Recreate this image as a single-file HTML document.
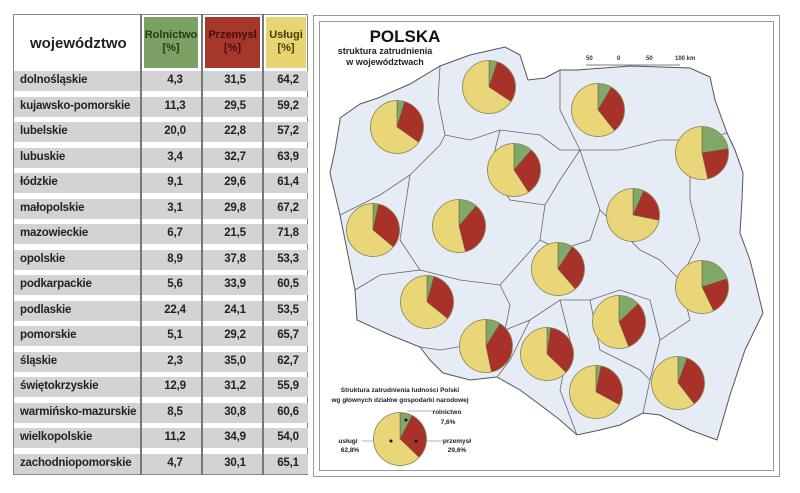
<!DOCTYPE html>
<html><head><meta charset="utf-8"><style>
body{margin:0;width:800px;height:493px;background:#fff;position:relative;overflow:hidden;font-family:"Liberation Sans",sans-serif}
.t{position:absolute;left:13px;top:14px;width:295px;height:461px;border:1.5px solid #888;box-sizing:border-box}
.row{position:absolute;left:14px;width:294px;height:20px;background:#d3d3d3;font-weight:bold;font-size:11.5px;color:#222;letter-spacing:-0.2px}
.row span{position:absolute;top:3px}
.vl{position:absolute;top:14px;width:1.5px;height:461px;background:#777}
.hd{position:absolute;top:17px;height:51px;font-weight:bold;font-size:11px;text-align:center;line-height:13px;box-sizing:border-box;padding-top:12px}
</style></head><body>
<div class="t"></div>
<div style="position:absolute;left:30px;top:35px;font-weight:bold;font-size:15px;color:#222">województwo</div>
<div class="hd" style="left:144px;width:54px;background:#7ba264;color:#1f3d12">Rolnictwo<br>[%]</div>
<div class="hd" style="left:205px;width:55px;background:#a5372c;color:#4a0c06">Przemysł<br>[%]</div>
<div class="hd" style="left:266px;width:40px;background:#e6d570;color:#4a3c00">Usługi<br>[%]</div>
<div id="rows"></div>
<div class="vl" style="left:140px"></div><div class="vl" style="left:201px"></div><div class="vl" style="left:262px"></div>
<div style="position:absolute;left:313px;top:15px;width:467px;height:462px;border:1.5px solid #999;box-sizing:border-box"></div>
<div style="position:absolute;left:319px;top:21px;width:455px;height:450px;border:1.5px solid #999;box-sizing:border-box"></div>
<svg width="800" height="493" style="position:absolute;left:0;top:0" id="s">
<polygon fill="#e6ecf5" stroke="#555" stroke-width="1" points="340,118 360,104 378,98 410,84 440,66 470,55 505,47 520,55 528,80 545,78 560,70 577,70 630,66 690,68 710,77 715,100 727,133 735,150 743,173 742,200 740,233 750,260 763,313 745,350 730,395 717,440 690,430 660,415 643,413 620,425 600,430 577,435 560,420 543,407 520,390 497,377 470,380 443,373 430,360 420,347 390,335 357,320 355,290 347,250 340,215 330,173 335,150 340,120"/>
<g fill="none" stroke="#666" stroke-width="0.8">
<path d="M440,66 L438,100 L445,135 L440,145"/><path d="M445,135 L470,140 L500,130 L540,135 L560,150 L580,150"/>
<path d="M560,70 L560,110 L580,150 L620,150 L660,140 L700,140 L727,133"/>
<path d="M340,215 L380,195 L410,175 L440,145"/><path d="M410,175 L400,240 L420,270 L380,275 L355,290"/>
<path d="M500,130 L490,170 L510,200 L545,205 L560,180 L580,150"/><path d="M545,205 L540,240 L560,250 L590,240 L600,210 L580,150"/>
<path d="M420,270 L460,280 L500,285 L540,240"/><path d="M500,285 L510,305 L505,330 L470,345 L440,350 L420,347"/>
<path d="M690,140 L690,200 L700,240 L680,280 L690,320 L660,340 L650,380 L643,413"/>
<path d="M600,210 L640,250 L660,260 L680,280"/><path d="M505,330 L530,320 L560,300 L590,300 L620,290 L650,300 L660,340"/>
<path d="M530,320 L510,360 L497,377"/><path d="M560,300 L570,340 L560,390 L577,435"/><path d="M590,300 L600,350 L640,370 L650,380"/>
</g>
<text x="405" y="42" font-size="17" font-weight="bold" fill="#111" text-anchor="middle">POLSKA</text>
<text x="385" y="54" font-size="9" font-weight="bold" fill="#222" text-anchor="middle">struktura zatrudnienia</text>
<text x="385" y="65" font-size="9" font-weight="bold" fill="#222" text-anchor="middle">w województwach</text>
<g font-size="6" font-weight="bold" fill="#333"><text x="586" y="60">50</text><text x="617" y="60">0</text><text x="646" y="60">50</text><text x="675" y="60">100 km</text></g>
<line x1="586" y1="65" x2="680" y2="65" stroke="#555" stroke-width="0.8"/>
<g font-size="6.5" font-weight="bold" fill="#222" text-anchor="middle"><text x="400" y="392">Struktura zatrudnienia ludności Polski</text><text x="400" y="402">wg głównych działów gospodarki narodowej</text>
<text x="447" y="414">rolnictwo</text><text x="448" y="424">7,6%</text><text x="348" y="443">usługi</text><text x="350" y="452">62,8%</text><text x="457" y="443">przemysł</text><text x="457" y="452">29,6%</text></g>
<g stroke="#666" stroke-width="0.6"><line x1="407" y1="411" x2="435" y2="411"/><line x1="362" y1="441" x2="392" y2="441"/><line x1="416" y1="441" x2="443" y2="441"/></g>
<g id="pies"></g>
</svg>
<script>
var d=[["dolnośląskie","4,3","31,5","64,2"],["kujawsko-pomorskie","11,3","29,5","59,2"],["lubelskie","20,0","22,8","57,2"],["lubuskie","3,4","32,7","63,9"],["łódzkie","9,1","29,6","61,4"],["małopolskie","3,1","29,8","67,2"],["mazowieckie","6,7","21,5","71,8"],["opolskie","8,9","37,8","53,3"],["podkarpackie","5,6","33,9","60,5"],["podlaskie","22,4","24,1","53,5"],["pomorskie","5,1","29,2","65,7"],["śląskie","2,3","35,0","62,7"],["świętokrzyskie","12,9","31,2","55,9"],["warmińsko-mazurskie","8,5","30,8","60,6"],["wielkopolskie","11,2","34,9","54,0"],["zachodniopomorskie","4,7","30,1","65,1"]];
var h="";d.forEach(function(r,i){var y=71+25.5*i;h+='<div class="row" style="top:'+y+'px"><span style="left:6px">'+r[0]+'</span><span style="left:136px;width:50px;text-align:center">'+r[1]+'</span><span style="left:196px;width:50px;text-align:center">'+r[2]+'</span><span style="left:254px;width:40px;text-align:center">'+r[3]+'</span></div>';});
document.getElementById("rows").innerHTML=h;
var P=[[427,302,4.3,31.5],[514,170,11.3,29.5],[702,287,20,22.8],[373,230,3.4,32.7],[558,269,9.1,29.6],[596,392,3.1,29.8],[633,215,6.7,21.5],[486,346,8.9,37.8],[678,383,5.6,33.9],[702,153,22.4,24.1],[489,87,5.1,29.2],[547,354,2.3,35],[619,322,12.9,31.2],[598,110,8.5,30.8],[459,226,11.2,34.9],[397,127,4.7,30.1],[400,439,7.6,29.6]];
function pt(cx,cy,r,p){var a=p/100*2*Math.PI;return [cx+r*Math.sin(a),cy-r*Math.cos(a)];}
function sl(cx,cy,r,a,b,c){var s=pt(cx,cy,r,a),e=pt(cx,cy,r,b);return '<path d="M'+cx+','+cy+' L'+s[0]+','+s[1]+' A'+r+','+r+' 0 '+((b-a)>50?1:0)+' 1 '+e[0]+','+e[1]+' Z" fill="'+c+'" stroke="#6b5a3a" stroke-width="0.5"/>';}
var g="";P.forEach(function(p){var r=26.5,g1=p[2],r1=p[2]+p[3];g+=sl(p[0],p[1],r,0,g1,"#7fa86a")+sl(p[0],p[1],r,g1,r1,"#a8322a")+sl(p[0],p[1],r,r1,99.999,"#e8d678")+'<circle cx="'+p[0]+'" cy="'+p[1]+'" r="'+r+'" fill="none" stroke="#8f8a55" stroke-width="0.8"/>';});
g+='<circle cx="406" cy="420" r="1.5" fill="#111"/><circle cx="391" cy="441" r="1.5" fill="#111"/><circle cx="416" cy="441" r="1.5" fill="#111"/>';
document.getElementById("pies").innerHTML=g;
</script>
</body></html>
